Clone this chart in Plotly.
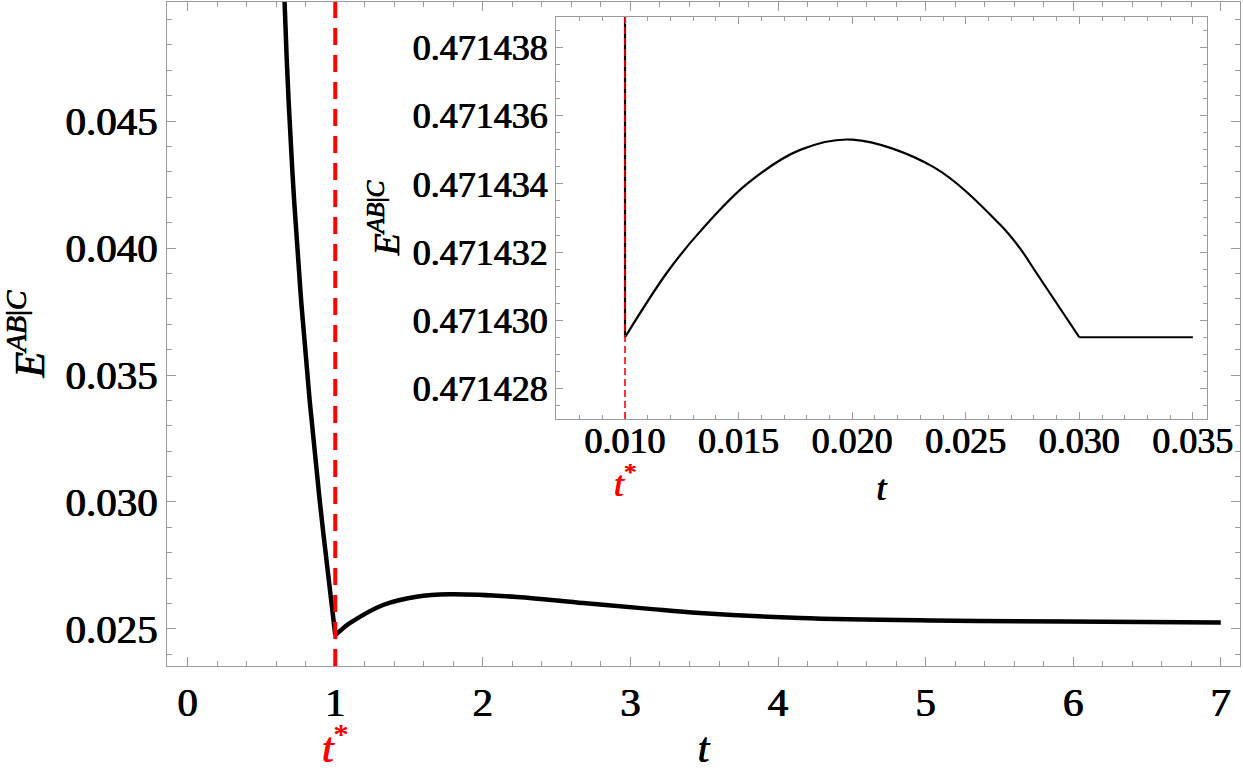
import plotly.graph_objects as go

# ---- data ----
T_STAR = 1.0
t_main = [0.640, 0.657, 0.684, 0.7215, 0.769, 0.8266, 0.8943, 0.9722, 1.0,
          1.04, 1.098, 1.324, 1.55, 1.775, 2.23, 2.68, 3.13, 3.47, 4.15, 5.05, 5.95, 7.0]
e_main = [0.05364, 0.04964, 0.045786, 0.041857, 0.037927, 0.034000, 0.030069, 0.026139, 0.02476,
          0.02496, 0.025224, 0.025943, 0.026269, 0.026364, 0.02626, 0.02602, 0.02579, 0.02563,
          0.02543, 0.02533, 0.02529, 0.02525]

T_STAR_INSET = 0.010
T_PLATEAU = 0.030
t_inset = [0.010, 0.010, 0.01185, 0.0133, 0.01537, 0.01771, 0.0200, 0.02357, 0.02652, 0.0274, 0.0281, 0.030, 0.035]
e_inset = [0.471445, 0.4714295, 0.4714314, 0.4714326, 0.4714340, 0.4714350, 0.4714353, 0.4714345,
           0.4714328, 0.4714321, 0.4714314, 0.4714295, 0.4714295]

main_xticks = [0, 1, 2, 3, 4, 5, 6, 7]
inset_xticks = [0.010, 0.015, 0.020, 0.025, 0.030, 0.035]

FONT = "Liberation Serif"
FRAME = "#9a9a9a"
YTITLE = "<i>E</i><sup><i>AB</i>|<i>C</i></sup>"
THICK = "0.45px 0 0 black, -0.45px 0 0 black"
THICK_RED = "0.45px 0 0 #ff0000, -0.45px 0 0 #ff0000"


def segment(ts, es, lo, hi):
    pts = [(t, e) for t, e in zip(ts, es) if lo <= t <= hi]
    return [p[0] for p in pts], [p[1] for p in pts]


fig = go.Figure()
# main curve: before and after the kink at t*
for lo, hi in [(-1, T_STAR), (T_STAR, 100)]:
    xs, ys = segment(t_main, e_main, lo, hi)
    fig.add_trace(go.Scatter(x=xs, y=ys, mode="lines", line=dict(color="black", width=4.5, shape="spline", smoothing=1.0),
                             showlegend=False, xaxis="x", yaxis="y"))
# inset: jump at t*, arch, plateau
xs, ys = t_inset[:2], e_inset[:2]
fig.add_trace(go.Scatter(x=xs, y=ys, mode="lines", line=dict(color="black", width=2.2),
                         showlegend=False, xaxis="x2", yaxis="y2"))
xs, ys = segment(t_inset[1:], e_inset[1:], T_STAR_INSET, T_PLATEAU)
fig.add_trace(go.Scatter(x=xs, y=ys, mode="lines", line=dict(color="black", width=2.2, shape="spline", smoothing=1.0),
                         showlegend=False, xaxis="x2", yaxis="y2"))
xs, ys = segment(t_inset, e_inset, T_PLATEAU, 1)
fig.add_trace(go.Scatter(x=xs, y=ys, mode="lines", line=dict(color="black", width=2.2),
                         showlegend=False, xaxis="x2", yaxis="y2"))

# red dashed marker lines
fig.add_shape(type="line", xref="x", yref="y domain", x0=T_STAR, x1=T_STAR, y0=0, y1=1,
              line=dict(color="#ff0000", width=4, dash="17px,10px"))
fig.add_shape(type="line", xref="x2", yref="y2 domain", x0=T_STAR_INSET, x1=T_STAR_INSET, y0=0, y1=1,
              line=dict(color="#ff0000", width=1.6, dash="7px,4px"))


def frame_axis(size, ticklen):
    return dict(showline=True, mirror="allticks", linecolor=FRAME, linewidth=1,
                ticks="inside", tickcolor=FRAME, tickwidth=1, showgrid=False, zeroline=False,
                automargin=False, ticklen=ticklen,
                tickfont=dict(family=FONT, size=size, color="black", shadow=THICK))


fig.update_layout(
    width=1243, height=771,
    margin=dict(l=167, r=3, t=2, b=105, autoexpand=False),
    plot_bgcolor="white", paper_bgcolor="white",
    font=dict(family=FONT, color="black"),
    xaxis=dict(**frame_axis(41, 9), range=[-0.14, 7.13], tickvals=main_xticks,
               minor=dict(dtick=0.2, tick0=0, ticks="inside", ticklen=5, tickcolor=FRAME),
               title=dict(text="<i>t</i>", font=dict(family=FONT, size=42, shadow=THICK), standoff=24)),
    yaxis=dict(**frame_axis(41, 9), range=[0.02354, 0.04969], dtick=0.005, tick0=0.025, tickformat=".3f",
               minor=dict(dtick=0.001, tick0=0.025, ticks="inside", ticklen=5, tickcolor=FRAME),
               title=dict(text=YTITLE, font=dict(family=FONT, size=42, shadow=THICK), standoff=10)),
    xaxis2=dict(**frame_axis(36, 7), ticklabelstandoff=-10,
                domain=[0.3625, 0.9692], anchor="y2", range=[0.00696, 0.03562],
                tickvals=inset_xticks, tickformat=".3f",
                minor=dict(dtick=0.001, tick0=0.010, ticks="inside", ticklen=4, tickcolor=FRAME),
                title=dict(text="<i>t</i>", font=dict(family=FONT, size=36, shadow=THICK), standoff=14)),
    yaxis2=dict(**frame_axis(36, 7),
                domain=[0.372, 0.9774], anchor="x2", range=[0.4714271, 0.4714389],
                dtick=2e-6, tick0=0.471428, tickformat=".6f",
                minor=dict(dtick=5e-7, tick0=0.471428, ticks="inside", ticklen=4, tickcolor=FRAME),
                title=dict(text=YTITLE, font=dict(family=FONT, size=36, shadow=THICK), standoff=2)),
    annotations=[
        dict(text="<i>t</i><sup>*</sup>", x=T_STAR, xref="x", y=0, yref="paper", yshift=-78,
             yanchor="middle", showarrow=False,
             font=dict(family=FONT, size=42, color="#ff0000", shadow=THICK_RED)),
        dict(text="<i>t</i><sup>*</sup>", x=T_STAR_INSET, xref="x2", y=0, yref="y2 domain", yshift=-63,
             yanchor="middle", showarrow=False,
             font=dict(family=FONT, size=36, color="#ff0000", shadow=THICK_RED)),
    ],
)

fig.write_html("out.html")
